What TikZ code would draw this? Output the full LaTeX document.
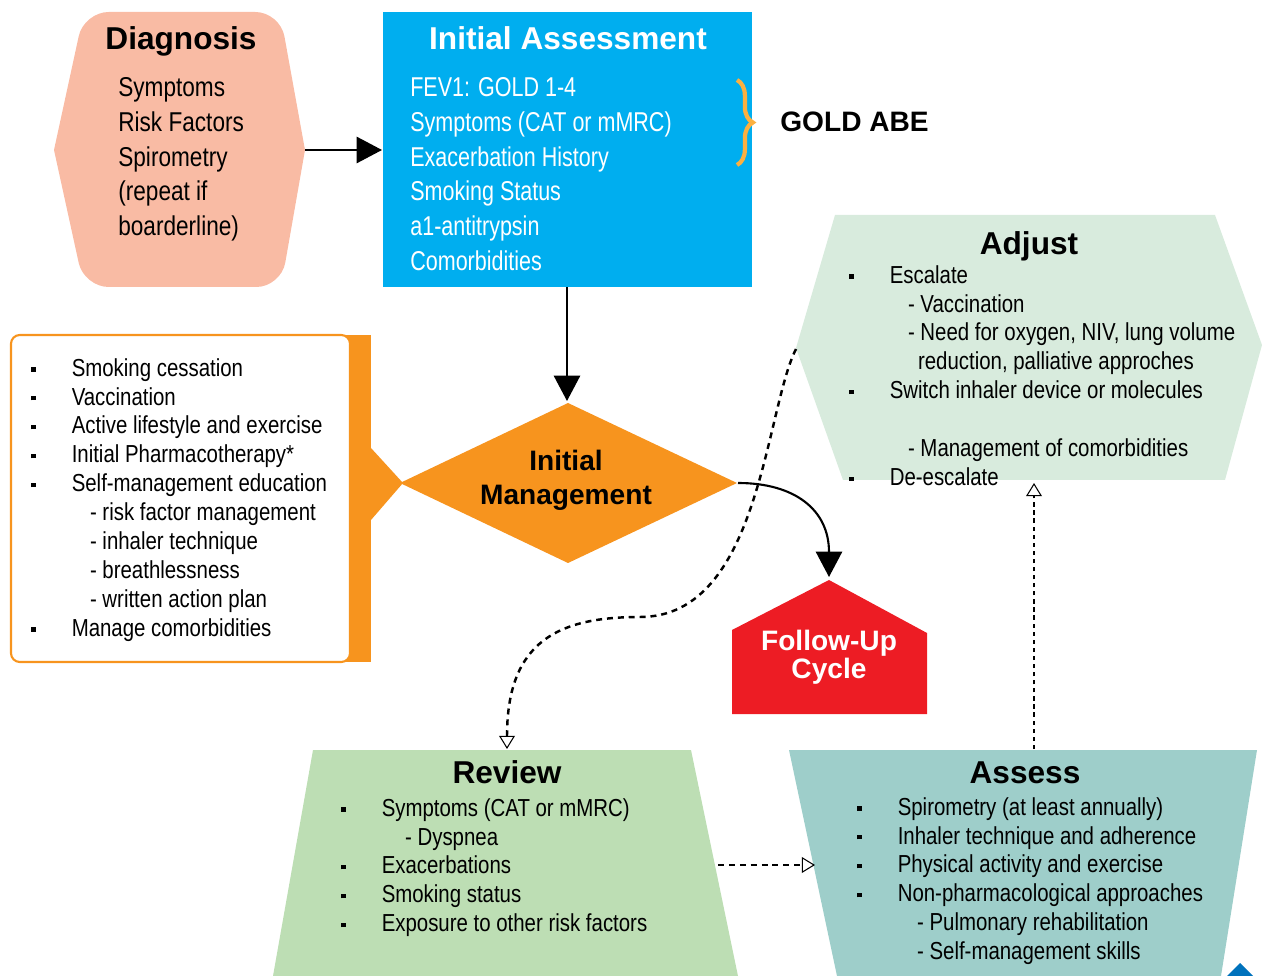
\documentclass[tikz,border=0pt]{standalone}
\usepackage{fontspec}
\setmainfont[FakeStretch=0.83]{Liberation Sans}
\newfontfamily\headfont{Liberation Sans}
\newfontfamily\narrowfont[FakeStretch=0.79]{Liberation Sans}
\usepackage{xcolor}
\usetikzlibrary{arrows.meta,decorations.pathreplacing}

\definecolor{diagsalmon}{RGB}{249,187,164}
\definecolor{iacyan}{RGB}{0,174,239}
\definecolor{mgmtorange}{RGB}{247,148,30}
\definecolor{braceorange}{RGB}{251,176,64}
\definecolor{adjgreen}{RGB}{216,235,221}
\definecolor{revgreen}{RGB}{189,222,180}
\definecolor{assteal}{RGB}{158,206,202}
\definecolor{fured}{RGB}{237,28,36}
\definecolor{cornerblue}{RGB}{0,114,188}

\newcommand{\bul}{\makebox[23pt][l]{\rule[2.6pt]{2.4pt}{2.4pt}}}

\begin{document}
\begin{tikzpicture}[
  x=0.02cm, y=-0.02cm,
  head/.style={font=\headfont\bfseries\fontsize{18}{20}\selectfont, inner sep=0pt, anchor=base},
  midhead/.style={font=\headfont\bfseries\fontsize{16}{19.3}\selectfont, inner sep=0pt, align=center},
  toptext/.style={font=\fontsize{15.5}{19.84}\selectfont, align=left, anchor=north west, inner sep=0pt},
  bodytext/.style={font=\fontsize{14}{16.44}\selectfont, align=left, anchor=north west, inner sep=0pt},
  solidarrow/.style={draw, line width=1.2pt, -{Triangle[length=14.5pt,width=15pt]}},
  dasharrow/.style={draw, line width=1.4pt, dash pattern=on 3.4pt off 2.8pt,
           -{Triangle[open,length=7.5pt,width=9pt,line width=0.6pt]}}
]
  \useasboundingbox (0,0) rectangle (1262,976);

  % shapes
  \fill[diagsalmon] (54,150) [rounded corners=14pt] -- (84,12) -- (280,12) [sharp corners] -- (305,150)
        [rounded corners=14pt] -- (281,287) -- (84,287) [sharp corners] -- cycle;
  \fill[iacyan] (383,12) rectangle (752,287);
  \fill[mgmtorange] (340,335) rectangle (371,662);
  \draw[mgmtorange, line width=1.2pt, fill=white, rounded corners=5pt] (11,335) rectangle (350,662);
  \fill[mgmtorange] (371,448) -- (403,483) -- (371,520) -- cycle;
  \fill[mgmtorange] (400,483) -- (568,403) -- (737,483) -- (568,563) -- cycle;
  \fill[adjgreen] (796,348) -- (835,215) -- (1215,215) -- (1262,345) -- (1225,480) -- (843,480) -- cycle;
  \fill[fured] (732,714) -- (732,630) -- (829,580) -- (927,633) -- (927,714) -- cycle;
  \fill[revgreen] (313,750) -- (691,750) -- (738,976) -- (273,976) -- cycle;
  \fill[assteal] (789,750) -- (1257,750) -- (1221,976) -- (837,976) -- cycle;
  \fill[cornerblue] (1240,963) -- (1253,976) -- (1227,976) -- cycle;

  % titles
  \node[head] (diagT) at (181,50) {Diagnosis};
  \node[head, text=white] (iaT) at (568,50) {Initial Assessment};
  \node[head] (adjT) at (1029,255) {Adjust};
  \node[head] (revT) at (507,783) {Review};
  \node[head] (assT) at (1025,783) {Assess};
  \node[midhead] (imT) at (566,480) {Initial\\Management};
  \node[midhead, text=white, font=\headfont\bfseries\fontsize{16}{15.9}\selectfont] (fuT) at (829,657) {Follow-Up\\Cycle};
  \node[font=\headfont\bfseries\fontsize{16}{18}\selectfont, inner sep=0pt, anchor=base west] (gold) at (780,132) {GOLD ABE};

  % texts
  \node[toptext] (diagL) at (118,77) {Symptoms\\Risk Factors\\Spirometry\\(repeat if\\boarderline)};
  \node[toptext, text=white, font=\narrowfont\fontsize{15.5}{19.84}\selectfont] (iaL) at (410,77)
     {FEV1: GOLD 1-4\\Symptoms (CAT or mMRC)\\Exacerbation History\\Smoking Status\\a1-antitrypsin\\Comorbidities};
  \node[bodytext] (mgmtL) at (31,358) {\bul Smoking cessation\\\bul Vaccination\\\bul Active lifestyle and exercise\\
     \bul Initial Pharmacotherapy*\\\bul Self-management education\\\hspace*{33.4pt}- risk factor management\\
     \hspace*{33.4pt}- inhaler technique\\\hspace*{33.4pt}- breathlessness\\\hspace*{33.4pt}- written action plan\\
     \bul Manage comorbidities};
  \node[bodytext] (adjL) at (849,265) {\bul Escalate\\\hspace*{33.4pt}- Vaccination\\
     \hspace*{33.4pt}- Need for oxygen, NIV, lung volume\\\hspace*{39.1pt}reduction, palliative approches\\
     \bul Switch inhaler device or molecules\\[16.44pt]\hspace*{33.4pt}- Management of comorbidities\\\bul De-escalate};
  \node[bodytext] (revL) at (341,798) {\bul Symptoms (CAT or mMRC)\\\hspace*{36.3pt}- Dyspnea\\\bul Exacerbations\\
     \bul Smoking status\\\bul Exposure to other risk factors};
  \node[bodytext] (assL) at (857,797) {\bul Spirometry (at least annually)\\\bul Inhaler technique and adherence\\
     \bul Physical activity and exercise\\\bul Non-pharmacological approaches\\
     \hspace*{34pt}- Pulmonary rehabilitation\\\hspace*{34pt}- Self-management skills};

  % connector ends
  \coordinate (diagE) at (305,150);
  \coordinate (iaW) at (382,150);
  \coordinate (iaS) at (567,287);
  \coordinate (imN) at (567,401);
  \coordinate (imE) at (738,483);
  \coordinate (fuN) at (829,577);
  \coordinate (adjW) at (796,349);
  \coordinate (revN) at (507,749);
  \coordinate (revE) at (718,865);
  \coordinate (assW) at (815,865);
  \coordinate (assN) at (1034,749);
  \coordinate (adjS) at (1034,483);

  \draw[braceorange, line width=2.4pt, decorate, decoration={brace, amplitude=9pt}] (737,80) -- (737,165);

  \draw[solidarrow] (diagE) -- (iaW);
  \draw[solidarrow] (iaS) -- (imN);
  \draw[solidarrow] (imE) .. controls (795,483) and (829,510) .. (fuN);
  \draw[dasharrow] (adjW) .. controls (765,410) and (760,617) .. (640,617)
        .. controls (560,617) and (507,640) .. (revN);
  \draw[dasharrow] (revE) -- (assW);
  \draw[dasharrow, line width=1.2pt, dash pattern=on 2.4pt off 2.2pt] (assN) -- (adjS);
\end{tikzpicture}
\end{document}
